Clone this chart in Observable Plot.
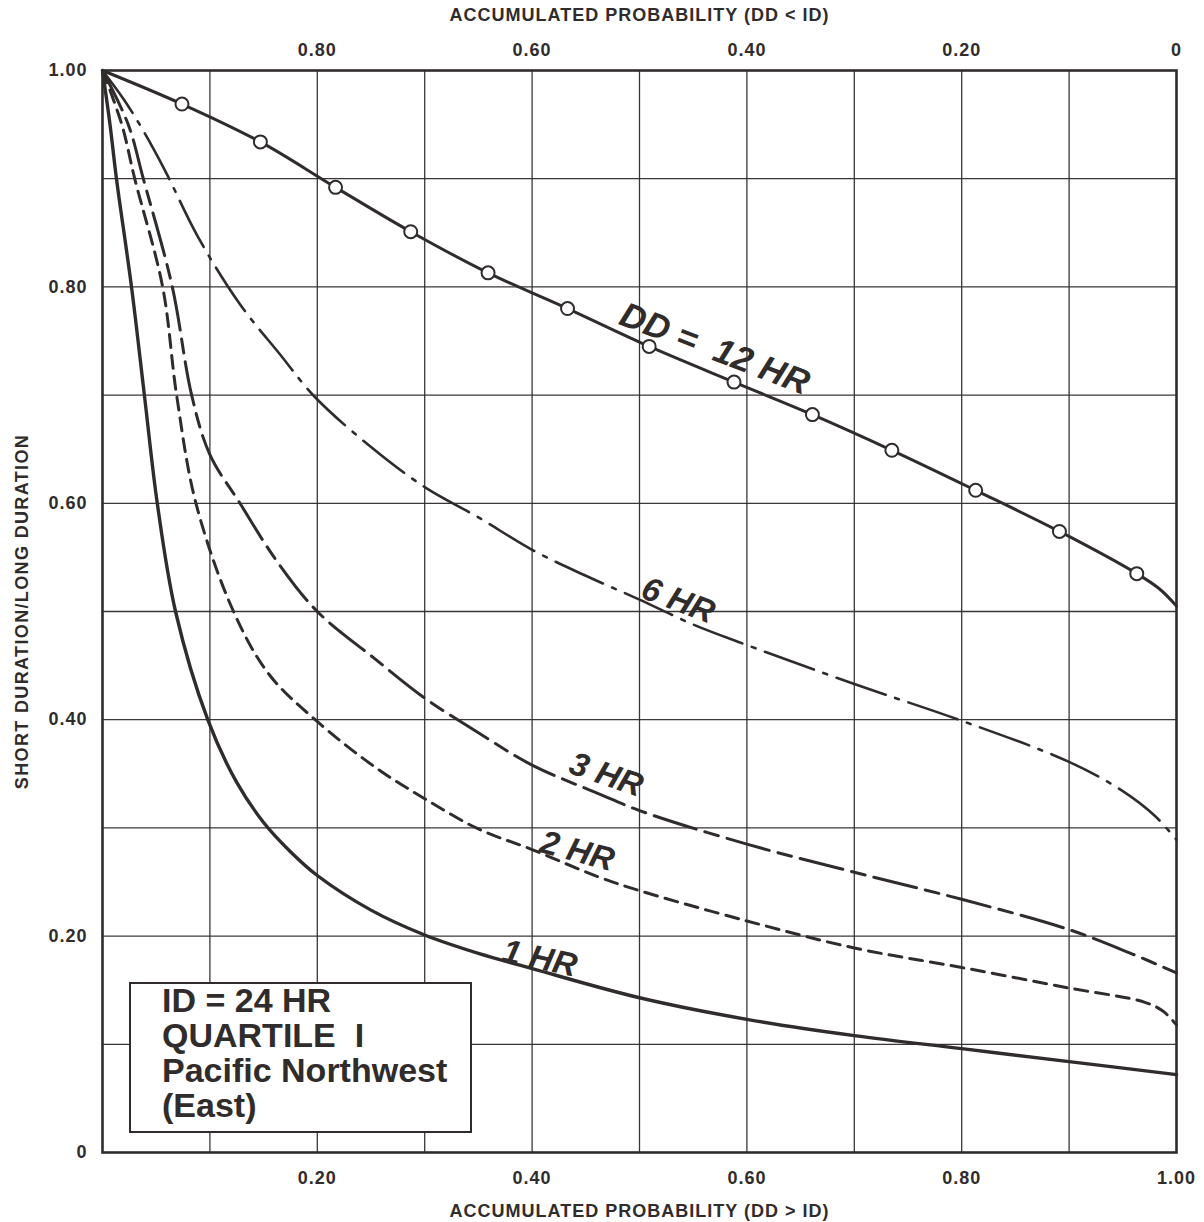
<!DOCTYPE html>
<html>
<head>
<meta charset="utf-8">
<script src="https://cdn.jsdelivr.net/npm/d3@7"></script>
<script src="https://cdn.jsdelivr.net/npm/@observablehq/plot@0.6"></script>
<style>
  body { margin: 0; background: #ffffff; }
  #wrap { position: relative; width: 1204px; height: 1222px; font-family: "Liberation Sans", Arial, sans-serif; }
  #wrap svg { display: block; }
  #wrap svg text { white-space: pre; }
  #box {
    position: absolute; left: 129px; top: 982px; width: 339px; height: 147px;
    border: 2.5px solid #302c2c; background: #ffffff; box-sizing: content-box;
    color: #302c2c;
    font-family: "Liberation Sans", Arial, sans-serif; font-weight: bold;
    font-size: 34px; line-height: 35px;
  }
  #box div { position: relative; left: 31px; top: -1px; white-space: pre; }
</style>
</head>
<body>
<div id="wrap"></div>
<script>
// ---- data: accumulated probability (DD > ID) vs short/long duration ratio ----
const p12 = [0, 0.074, 0.147, 0.217, 0.287, 0.359, 0.433, 0.509, 0.588, 0.661, 0.735, 0.813, 0.891, 0.963, 0.984, 1.0];
const r12 = [1.0, 0.969, 0.934, 0.892, 0.851, 0.813, 0.780, 0.745, 0.712, 0.682, 0.649, 0.612, 0.574, 0.535, 0.521, 0.505];
const m12 = [0, 1, 1, 1, 1, 1, 1, 1, 1, 1, 1, 1, 1, 1, 0, 0]; // open-circle markers

const p6 = [0, 0.020, 0.037, 0.058, 0.089, 0.128, 0.165, 0.198, 0.25, 0.30, 0.35, 0.40, 0.45, 0.50, 0.55, 0.60, 0.70, 0.80, 0.90, 0.95, 0.98, 1.0];
const r6 = [1.0, 0.973, 0.946, 0.908, 0.846, 0.784, 0.738, 0.698, 0.652, 0.615, 0.587, 0.557, 0.533, 0.511, 0.488, 0.469, 0.433, 0.399, 0.361, 0.334, 0.311, 0.289];

const p3 = [0, 0.024, 0.038, 0.065, 0.083, 0.10, 0.128, 0.162, 0.20, 0.254, 0.30, 0.35, 0.40, 0.461, 0.50, 0.60, 0.70, 0.80, 0.90, 0.96, 1.0];
const r3 = [1.0, 0.95, 0.90, 0.80, 0.70, 0.645, 0.60, 0.547, 0.50, 0.456, 0.420, 0.388, 0.358, 0.332, 0.316, 0.285, 0.259, 0.234, 0.206, 0.183, 0.166];

const p2 = [0, 0.018, 0.030, 0.056, 0.069, 0.087, 0.122, 0.155, 0.198, 0.254, 0.30, 0.35, 0.40, 0.461, 0.50, 0.60, 0.70, 0.80, 0.90, 0.97, 0.987, 1.0];
const r2 = [1.0, 0.95, 0.90, 0.80, 0.70, 0.60, 0.50, 0.442, 0.40, 0.356, 0.327, 0.299, 0.280, 0.255, 0.242, 0.214, 0.189, 0.171, 0.152, 0.139, 0.131, 0.118];

const p1 = [0, 0.007, 0.013, 0.027, 0.039, 0.051, 0.068, 0.098, 0.125, 0.15, 0.175, 0.20, 0.25, 0.30, 0.35, 0.40, 0.50, 0.60, 0.70, 0.80, 0.90, 1.0];
const r1 = [1.0, 0.95, 0.90, 0.80, 0.70, 0.60, 0.50, 0.40, 0.342, 0.305, 0.278, 0.256, 0.224, 0.201, 0.184, 0.170, 0.143, 0.123, 0.108, 0.096, 0.084, 0.072];

// ---- ticks and labels ----
const gridValues = [0.1, 0.2, 0.3, 0.4, 0.5, 0.6, 0.7, 0.8, 0.9];
const bottomTicks = [0.2, 0.4, 0.6, 0.8, 1.0];
const bottomLabels = ["0.20", "0.40", "0.60", "0.80", "1.00"];
const topTicks = [0.2, 0.4, 0.6, 0.8, 1.0];
const topLabels = ["0.80", "0.60", "0.40", "0.20", "0"];
const leftTicks = [0, 0.2, 0.4, 0.6, 0.8, 1.0];
const leftLabels = ["0", "0.20", "0.40", "0.60", "0.80", "1.00"];

const seriesNames = ["DD =  12 HR", "6 HR", "3 HR", "2 HR", "1 HR"];
const labelAt = [0.57, 0.536, 0.469, 0.442, 0.407];

const bottomTitle = "ACCUMULATED PROBABILITY (DD > ID)";
const topTitle = "ACCUMULATED PROBABILITY (DD < ID)";
const leftTitle = "SHORT DURATION/LONG DURATION";
const boxLines = ["ID = 24 HR", "QUARTILE  I", "Pacific Northwest", "(East)"];

// ---- build rows ----
const rows = (ps, rs) => ps.map((p, i) => ({p, r: rs[i], i}));
const hr12 = rows(p12, r12), hr6 = rows(p6, r6), hr3 = rows(p3, r3), hr2 = rows(p2, r2), hr1 = rows(p1, r1);
const series = [hr12, hr6, hr3, hr2, hr1];
function interp(s, x) {
  for (let k = 1; k < s.length; k++) {
    if (x <= s[k].p) {
      const t = (x - s[k-1].p) / (s[k].p - s[k-1].p);
      return s[k-1].r + t * (s[k].r - s[k-1].r);
    }
  }
  return s[s.length - 1].r;
}
const labelStyle = [
  {dy: -25, rotate: 21, size: 35},
  {dy: -17, rotate: 21, size: 33},
  {dy: -22, rotate: 19, size: 33},
  {dy: -17, rotate: 15, size: 33},
  {dy: -12, rotate: 12, size: 33}
];

const ink = "#302c2c";
const font = "Liberation Sans, Arial, sans-serif";
const curve = "catmull-rom";

const labelMarks = seriesNames.map((name, k) =>
  Plot.text([{p: labelAt[k], r: interp(series[k], labelAt[k]), name}], {
    x: "p", y: "r", text: "name", dy: labelStyle[k].dy, rotate: labelStyle[k].rotate,
    fontSize: labelStyle[k].size, fontWeight: "bold", fontStyle: "italic", fill: ink
  })
);

const tickText = {fontSize: 18, fontWeight: "bold", fill: ink};
const titleText = {fontSize: 18, fontWeight: "bold", fill: ink, textAnchor: "middle"};

const chart = Plot.plot({
  width: 1204, height: 1222,
  marginTop: 70, marginRight: 28, marginBottom: 70, marginLeft: 102,
  x: {domain: [0, 1], axis: null},
  y: {domain: [0, 1], axis: null},
  style: {fontFamily: font, background: "transparent", color: ink, overflow: "visible"},
  marks: [
    Plot.gridX(gridValues, {stroke: ink, strokeOpacity: 0.95, strokeWidth: 1.3}),
    Plot.gridY(gridValues, {stroke: ink, strokeOpacity: 0.95, strokeWidth: 1.3}),
    Plot.line(hr6, {x: "p", y: "r", curve, stroke: ink, strokeWidth: 2.6, strokeDasharray: "52,10,4,10"}),
    Plot.line(hr3, {x: "p", y: "r", curve, stroke: ink, strokeWidth: 3, strokeDasharray: "44,9,14,9"}),
    Plot.line(hr2, {x: "p", y: "r", curve, stroke: ink, strokeWidth: 3, strokeDasharray: "13,8"}),
    Plot.line(hr1, {x: "p", y: "r", curve, stroke: ink, strokeWidth: 3.4}),
    Plot.line(hr12, {x: "p", y: "r", curve, stroke: ink, strokeWidth: 3}),
    Plot.dot(hr12.filter(d => m12[d.i]), {x: "p", y: "r", r: 6.5, fill: "white", stroke: ink, strokeWidth: 2}),
    Plot.frame({stroke: ink, strokeWidth: 2.6}),
    ...labelMarks,
    Plot.text(bottomTicks, {x: d => d, frameAnchor: "bottom", dy: 31, text: (d, i) => bottomLabels[i], ...tickText}),
    Plot.text(topTicks, {x: d => d, frameAnchor: "top", dy: -27, text: (d, i) => topLabels[i], ...tickText}),
    Plot.text(leftTicks, {y: d => d, frameAnchor: "left", dx: -15, textAnchor: "end", text: (d, i) => leftLabels[i], ...tickText}),
    Plot.text([bottomTitle], {frameAnchor: "bottom", dy: 64, ...titleText}),
    Plot.text([topTitle], {frameAnchor: "top", dy: -62, ...titleText}),
    Plot.text([leftTitle], {frameAnchor: "left", dx: -80, rotate: -90, ...titleText, fontSize: 18.1})
  ]
});

// slightly widen the axis lettering, as in the original typesetting
d3.select(chart).selectAll('g[font-size="18"] text').style("letter-spacing", "1px");
d3.select(chart).selectAll('g[font-size="18.1"] text').style("letter-spacing", "1.3px");

const wrap = document.getElementById("wrap");
wrap.appendChild(chart);
const box = document.createElement("div");
box.id = "box";
boxLines.forEach(t => { const d = document.createElement("div"); d.textContent = t; box.appendChild(d); });
wrap.appendChild(box);
</script>
</body>
</html>
